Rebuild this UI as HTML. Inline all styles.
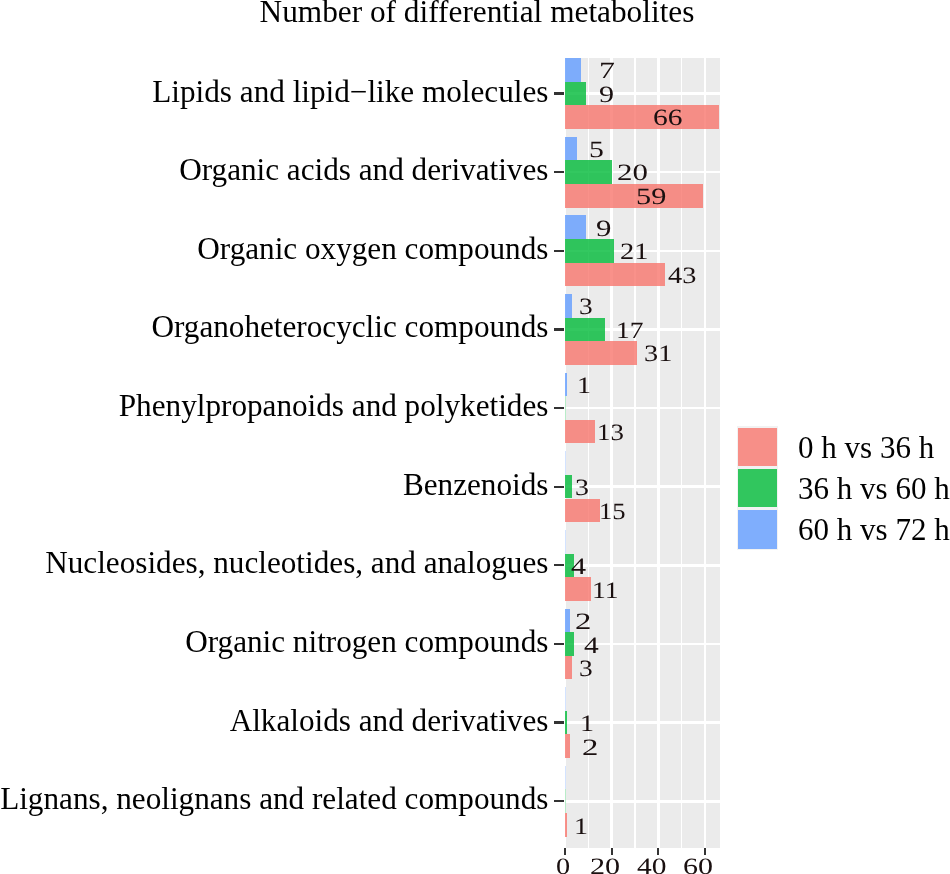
<!DOCTYPE html>
<html><head><meta charset="utf-8"><title>Number of differential metabolites</title>
<style>
html,body{margin:0;padding:0;background:#fff;}
body{width:950px;height:874px;position:relative;overflow:hidden;font-family:"Liberation Serif",serif;color:#000;}
.abs{position:absolute;}
.title{position:absolute;left:0;top:0;white-space:nowrap;font-size:31.3px;line-height:36px;}
.ylab{position:absolute;right:401.6px;white-space:nowrap;font-size:31.2px;line-height:36px;height:36px;}
.tick{position:absolute;background:#333;}
.panel{position:absolute;background:#ebebeb;overflow:hidden;}
.gl{position:absolute;background:#fff;}
.bar{position:absolute;}
.r{background:rgba(248,118,109,.8);}
.g{background:rgba(0,186,56,.8);}
.b{background:rgba(97,156,255,.8);}
.num{position:absolute;white-space:nowrap;font-size:23.4px;line-height:28px;height:28px;color:#1a1010;text-rendering:geometricPrecision;transform-origin:0 50%;}
.key{position:absolute;background:#f2f2f2;}
.key i{position:absolute;left:1.6px;top:1.6px;right:1.6px;bottom:1.6px;display:block;}
.leg{position:absolute;left:798.1px;white-space:nowrap;font-size:31px;line-height:36px;height:36px;}
</style></head><body>

<div class="title" style="left:259.6px;top:-5.9px">Number of differential metabolites</div>
<div class="panel" style="left:565.1px;top:57.9px;width:155.40px;height:790.60px"></div>
<div class="gl" style="left:563.85px;top:57.9px;width:2.5px;height:790.60px"></div>
<div class="gl" style="left:587.75px;top:57.9px;width:1.3px;height:790.60px"></div>
<div class="gl" style="left:610.45px;top:57.9px;width:2.5px;height:790.60px"></div>
<div class="gl" style="left:634.35px;top:57.9px;width:1.3px;height:790.60px"></div>
<div class="gl" style="left:657.05px;top:57.9px;width:2.5px;height:790.60px"></div>
<div class="gl" style="left:680.95px;top:57.9px;width:1.3px;height:790.60px"></div>
<div class="gl" style="left:703.65px;top:57.9px;width:2.5px;height:790.60px"></div>
<div class="gl" style="left:565.1px;top:92.25px;width:155.40px;height:2.5px"></div>
<div class="gl" style="left:565.1px;top:170.89px;width:155.40px;height:2.5px"></div>
<div class="gl" style="left:565.1px;top:249.53px;width:155.40px;height:2.5px"></div>
<div class="gl" style="left:565.1px;top:328.17px;width:155.40px;height:2.5px"></div>
<div class="gl" style="left:565.1px;top:406.81px;width:155.40px;height:2.5px"></div>
<div class="gl" style="left:565.1px;top:485.45px;width:155.40px;height:2.5px"></div>
<div class="gl" style="left:565.1px;top:564.09px;width:155.40px;height:2.5px"></div>
<div class="gl" style="left:565.1px;top:642.73px;width:155.40px;height:2.5px"></div>
<div class="gl" style="left:565.1px;top:721.37px;width:155.40px;height:2.5px"></div>
<div class="gl" style="left:565.1px;top:800.01px;width:155.40px;height:2.5px"></div>
<div class="bar b" style="left:565.1px;top:58.10px;width:16.31px;height:23.6px"></div>
<div class="bar g" style="left:565.1px;top:81.70px;width:20.97px;height:23.6px"></div>
<div class="bar r" style="left:565.1px;top:105.30px;width:153.78px;height:23.6px"></div>
<div class="ylab" style="top:73.50px">Lipids and lipid−like molecules</div>
<div class="tick" style="left:554.4px;top:92.35px;width:9.5px;height:2.3px"></div>
<div class="bar b" style="left:565.1px;top:136.74px;width:11.65px;height:23.6px"></div>
<div class="bar g" style="left:565.1px;top:160.34px;width:46.60px;height:23.6px"></div>
<div class="bar r" style="left:565.1px;top:183.94px;width:137.47px;height:23.6px"></div>
<div class="ylab" style="top:152.14px">Organic acids and derivatives</div>
<div class="tick" style="left:554.4px;top:170.99px;width:9.5px;height:2.3px"></div>
<div class="bar b" style="left:565.1px;top:215.38px;width:20.97px;height:23.6px"></div>
<div class="bar g" style="left:565.1px;top:238.98px;width:48.93px;height:23.6px"></div>
<div class="bar r" style="left:565.1px;top:262.58px;width:100.19px;height:23.6px"></div>
<div class="ylab" style="top:230.78px">Organic oxygen compounds</div>
<div class="tick" style="left:554.4px;top:249.63px;width:9.5px;height:2.3px"></div>
<div class="bar b" style="left:565.1px;top:294.02px;width:6.99px;height:23.6px"></div>
<div class="bar g" style="left:565.1px;top:317.62px;width:39.61px;height:23.6px"></div>
<div class="bar r" style="left:565.1px;top:341.22px;width:72.23px;height:23.6px"></div>
<div class="ylab" style="top:309.42px">Organoheterocyclic compounds</div>
<div class="tick" style="left:554.4px;top:328.27px;width:9.5px;height:2.3px"></div>
<div class="bar b" style="left:565.1px;top:372.66px;width:2.33px;height:23.6px"></div>
<div class="bar g" style="left:564.8000000000001px;top:396.26px;width:0.6px;height:23.6px;opacity:.35"></div>
<div class="bar r" style="left:565.1px;top:419.86px;width:30.29px;height:23.6px"></div>
<div class="ylab" style="top:388.06px">Phenylpropanoids and polyketides</div>
<div class="tick" style="left:554.4px;top:406.91px;width:9.5px;height:2.3px"></div>
<div class="bar b" style="left:564.8000000000001px;top:451.30px;width:0.6px;height:23.6px;opacity:.35"></div>
<div class="bar g" style="left:565.1px;top:474.90px;width:6.99px;height:23.6px"></div>
<div class="bar r" style="left:565.1px;top:498.50px;width:34.95px;height:23.6px"></div>
<div class="ylab" style="top:466.70px">Benzenoids</div>
<div class="tick" style="left:554.4px;top:485.55px;width:9.5px;height:2.3px"></div>
<div class="bar b" style="left:564.8000000000001px;top:529.94px;width:0.6px;height:23.6px;opacity:.35"></div>
<div class="bar g" style="left:565.1px;top:553.54px;width:9.32px;height:23.6px"></div>
<div class="bar r" style="left:565.1px;top:577.14px;width:25.63px;height:23.6px"></div>
<div class="ylab" style="top:545.34px">Nucleosides, nucleotides, and analogues</div>
<div class="tick" style="left:554.4px;top:564.19px;width:9.5px;height:2.3px"></div>
<div class="bar b" style="left:565.1px;top:608.58px;width:4.66px;height:23.6px"></div>
<div class="bar g" style="left:565.1px;top:632.18px;width:9.32px;height:23.6px"></div>
<div class="bar r" style="left:565.1px;top:655.78px;width:6.99px;height:23.6px"></div>
<div class="ylab" style="top:623.98px">Organic nitrogen compounds</div>
<div class="tick" style="left:554.4px;top:642.83px;width:9.5px;height:2.3px"></div>
<div class="bar b" style="left:564.8000000000001px;top:687.22px;width:0.6px;height:23.6px;opacity:.35"></div>
<div class="bar g" style="left:565.1px;top:710.82px;width:2.33px;height:23.6px"></div>
<div class="bar r" style="left:565.1px;top:734.42px;width:4.66px;height:23.6px"></div>
<div class="ylab" style="top:702.62px">Alkaloids and derivatives</div>
<div class="tick" style="left:554.4px;top:721.47px;width:9.5px;height:2.3px"></div>
<div class="bar b" style="left:564.8000000000001px;top:765.86px;width:0.6px;height:23.6px;opacity:.35"></div>
<div class="bar g" style="left:564.8000000000001px;top:789.46px;width:0.6px;height:23.6px;opacity:.35"></div>
<div class="bar r" style="left:565.1px;top:813.06px;width:2.33px;height:23.6px"></div>
<div class="ylab" style="top:781.26px">Lignans, neolignans and related compounds</div>
<div class="tick" style="left:554.4px;top:800.11px;width:9.5px;height:2.3px"></div>
<div class="tick" style="left:563.95px;top:848.2px;width:2.3px;height:6.7px"></div>
<div class="tick" style="left:610.55px;top:848.2px;width:2.3px;height:6.7px"></div>
<div class="tick" style="left:657.15px;top:848.2px;width:2.3px;height:6.7px"></div>
<div class="tick" style="left:703.75px;top:848.2px;width:2.3px;height:6.7px"></div>
<div class="num" style="left:599.11px;top:57.03px;font-size:23.4px;transform:scaleX(1.363)">7</div>
<div class="num" style="left:598.68px;top:80.78px;font-size:23.4px;transform:scaleX(1.29)">9</div>
<div class="num" style="left:652.95px;top:103.68px;font-size:23.4px;transform:scaleX(1.263)">66</div>
<div class="num" style="left:588.98px;top:135.5px;font-size:23.4px;transform:scaleX(1.271)">5</div>
<div class="num" style="left:616.98px;top:159.12px;font-size:23.4px;transform:scaleX(1.321)">20</div>
<div class="num" style="left:636.45px;top:183.18px;font-size:23.4px;transform:scaleX(1.296)">59</div>
<div class="num" style="left:595.56px;top:214.62px;font-size:23.4px;transform:scaleX(1.32)">9</div>
<div class="num" style="left:619.7px;top:237.9px;font-size:23.4px;transform:scaleX(1.216)">21</div>
<div class="num" style="left:668.35px;top:261.52px;font-size:23.4px;transform:scaleX(1.211)">43</div>
<div class="num" style="left:578.64px;top:293.38px;font-size:23.4px;transform:scaleX(1.172)">3</div>
<div class="num" style="left:615.79px;top:316.9px;font-size:23.4px;transform:scaleX(1.178)">17</div>
<div class="num" style="left:643.7px;top:340.38px;font-size:23.4px;transform:scaleX(1.211)">31</div>
<div class="num" style="left:577.16px;top:372.35px;font-size:23.4px;transform:scaleX(1.2)">1</div>
<div class="num" style="left:596.84px;top:419.02px;font-size:23.4px;transform:scaleX(1.149)">13</div>
<div class="num" style="left:575.02px;top:474.22px;font-size:23.4px;transform:scaleX(1.193)">3</div>
<div class="num" style="left:598.66px;top:497.52px;font-size:23.4px;transform:scaleX(1.139)">15</div>
<div class="num" style="left:570.81px;top:552.9px;font-size:23.4px;transform:scaleX(1.288)">4</div>
<div class="num" style="left:591.88px;top:576.5px;font-size:23.4px;transform:scaleX(1.183)">11</div>
<div class="num" style="left:575.3px;top:607.55px;font-size:23.4px;transform:scaleX(1.4)">2</div>
<div class="num" style="left:583.72px;top:631.5px;font-size:23.4px;transform:scaleX(1.26)">4</div>
<div class="num" style="left:578.64px;top:655.02px;font-size:23.4px;transform:scaleX(1.172)">3</div>
<div class="num" style="left:580.41px;top:710.35px;font-size:23.4px;transform:scaleX(1.2)">1</div>
<div class="num" style="left:581.7px;top:733.9px;font-size:23.4px;transform:scaleX(1.4)">2</div>
<div class="num" style="left:573.66px;top:812.5px;font-size:23.4px;transform:scaleX(1.2)">1</div>
<div class="num" style="left:556.12px;top:852.92px;font-size:23.4px;transform:scaleX(1.21)">0</div>
<div class="num" style="left:589.92px;top:852.92px;font-size:23.4px;transform:scaleX(1.288)">20</div>
<div class="num" style="left:636.82px;top:852.92px;font-size:23.4px;transform:scaleX(1.261)">40</div>
<div class="num" style="left:683.12px;top:852.92px;font-size:23.4px;transform:scaleX(1.283)">60</div>
<div class="key" style="left:736.5px;top:426.10px;width:41.6px;height:41.35px"><i class="r"></i></div>
<div class="leg" style="top:429.50px">0 h vs 36 h</div>
<div class="key" style="left:736.5px;top:467.45px;width:41.6px;height:41.35px"><i class="g"></i></div>
<div class="leg" style="top:470.85px">36 h vs 60 h</div>
<div class="key" style="left:736.5px;top:508.80px;width:41.6px;height:41.35px"><i class="b"></i></div>
<div class="leg" style="top:512.20px">60 h vs 72 h</div>
</body></html>
